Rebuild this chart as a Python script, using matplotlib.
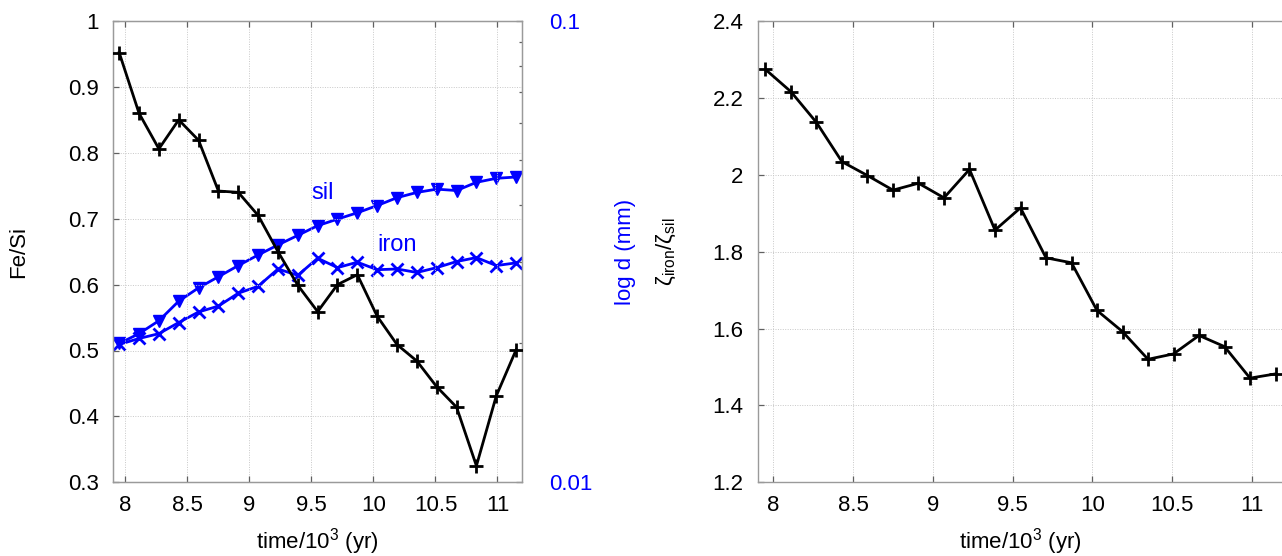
import matplotlib
matplotlib.use("Agg")
import matplotlib.pyplot as plt
from matplotlib.ticker import LogLocator, NullFormatter, FixedLocator, FixedFormatter

plt.rcParams['font.family'] = ['Liberation Sans', 'DejaVu Sans']
plt.rcParams['mathtext.fontset'] = 'custom'
plt.rcParams['mathtext.rm'] = 'Liberation Sans'
plt.rcParams['mathtext.it'] = 'Liberation Sans:italic'

# ---- data ----
time_kyr = [7.95, 8.11, 8.27, 8.43, 8.59, 8.75, 8.91, 9.07, 9.23, 9.39, 9.55,
            9.71, 9.87, 10.03, 10.19, 10.35, 10.51, 10.67, 10.83, 10.99, 11.15]
fe_si = [0.952, 0.860, 0.806, 0.850, 0.819, 0.742, 0.740, 0.705, 0.650, 0.599, 0.559,
         0.600, 0.615, 0.552, 0.509, 0.484, 0.445, 0.414, 0.325, 0.431, 0.501]
d_sil = [0.0200, 0.0210, 0.0224, 0.0247, 0.0264, 0.0279, 0.0295, 0.0311, 0.0327, 0.0343, 0.0360,
         0.0372, 0.0384, 0.0398, 0.0414, 0.0425, 0.0432, 0.0429, 0.0447, 0.0456, 0.0459]
d_iron = [0.0199, 0.0205, 0.0210, 0.0222, 0.0234, 0.0241, 0.0257, 0.0266, 0.0290, 0.0281, 0.0306,
          0.0292, 0.0300, 0.0289, 0.0290, 0.0285, 0.0292, 0.0301, 0.0307, 0.0295, 0.0299]
zeta_ratio = [2.274, 2.216, 2.136, 2.034, 1.998, 1.960, 1.978, 1.940, 2.014, 1.856, 1.914,
              1.784, 1.771, 1.647, 1.592, 1.520, 1.534, 1.582, 1.553, 1.471, 1.482]

xticks = [8, 8.5, 9, 9.5, 10, 10.5, 11]
xticklabels = ['8', '8.5', '9', '9.5', '10', '10.5', '11']
left_yticks = [0.3, 0.4, 0.5, 0.6, 0.7, 0.8, 0.9, 1.0]
left_yticklabels = ['0.3', '0.4', '0.5', '0.6', '0.7', '0.8', '0.9', '1']
log_yticks = [0.01, 0.1]
log_yticklabels = ['0.01', '0.1']
right_yticks = [1.2, 1.4, 1.6, 1.8, 2.0, 2.2, 2.4]
right_yticklabels = ['1.2', '1.4', '1.6', '1.8', '2', '2.2', '2.4']

FS = 16
BLUE = '#0000ff'
SPINE = '#9a9a9a'
TICK = '#606060'

fig = plt.figure(figsize=(12.82, 5.56), dpi=100)
W, H = 1282.0, 556.0
axL = fig.add_axes([113 / W, (H - 482.3) / H, 409.3 / W, 461.3 / H])
axR = fig.add_axes([757.5 / W, (H - 482.3) / H, (1283.5 - 757.5) / W, 461.3 / H])


def style(ax):
    for s in ax.spines.values():
        s.set_color(SPINE)
        s.set_linewidth(1.0)
    ax.grid(True, color='#c8c8c8', linestyle=(0, (1, 1.5)), linewidth=0.7)
    ax.tick_params(axis='both', which='major', direction='in', length=4.5, width=0.9,
                   color=TICK, labelsize=FS, top=True, right=False)
    ax.tick_params(axis='x', pad=9)
    ax.tick_params(axis='y', pad=10)
    ax.set_xlim(7.9, 11.2)
    ax.set_xticks(xticks)
    ax.set_xticklabels(xticklabels)
    ax.set_axisbelow(True)


# ---- left panel ----
style(axL)
axL.set_ylim(0.3, 1.0)
axL.set_yticks(left_yticks)
axL.set_yticklabels(left_yticklabels)
axL.plot(time_kyr, fe_si, color='black', lw=2, marker='+', ms=10, mew=2, zorder=5)
axL.set_xlabel('time/10$^3$ (yr)', fontsize=FS)
axL.xaxis.set_label_coords(0.5, -0.095)
axL.set_ylabel('Fe/Si', fontsize=FS)
axL.yaxis.set_label_coords(-0.205, 0.5)

axT = axL.twinx()
axT.set_yscale('log')
axT.set_ylim(0.01, 0.1)
axT.set_xlim(7.9, 11.2)
for s in axT.spines.values():
    s.set_color(SPINE)
axT.yaxis.set_major_locator(FixedLocator(log_yticks))
axT.yaxis.set_major_formatter(FixedFormatter(log_yticklabels))
axT.yaxis.set_minor_locator(LogLocator(base=10, subs=range(2, 10)))
axT.yaxis.set_minor_formatter(NullFormatter())
axT.tick_params(axis='y', which='major', direction='in', length=4.5, width=0.9, color=TICK,
                labelsize=FS, labelcolor=BLUE, pad=19)
axT.tick_params(axis='y', which='minor', direction='in', length=2.5, width=0.9, color=TICK)
axT.plot(time_kyr, d_sil, color=BLUE, lw=2, marker='v', ms=8, mew=1)
axT.plot(time_kyr, d_iron, color=BLUE, lw=2, marker='x', ms=8, mew=2)
axT.set_ylabel('log d (mm)', fontsize=FS, color=BLUE)
axT.yaxis.set_label_coords(1.226, 0.5)
axL.set_zorder(axT.get_zorder() + 1)
axL.patch.set_visible(False)
axL.text(0.513, 0.627, 'sil', transform=axL.transAxes, color=BLUE, fontsize=FS + 1,
         ha='center', va='center')
axL.text(0.694, 0.514, 'iron', transform=axL.transAxes, color=BLUE, fontsize=FS + 1,
         ha='center', va='center')

# ---- right panel ----
style(axR)
axR.set_ylim(1.2, 2.4)
axR.set_yticks(right_yticks)
axR.set_yticklabels(right_yticklabels)
axR.plot(time_kyr, zeta_ratio, color='black', lw=2, marker='+', ms=10, mew=2)
axR.set_xlabel('time/10$^3$ (yr)', fontsize=FS)
axR.xaxis.set_label_coords(0.5, -0.095)
axR.set_ylabel('ζ$_{\\mathrm{iron}}$/ζ$_{\\mathrm{sil}}$', fontsize=FS)
axR.yaxis.set_label_coords(-0.152, 0.5)

fig.savefig('out.png', dpi=100)
